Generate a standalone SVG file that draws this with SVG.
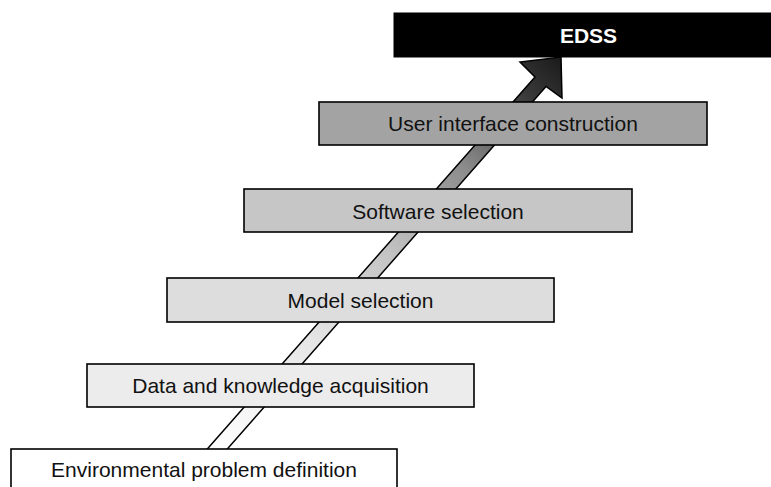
<svg xmlns="http://www.w3.org/2000/svg" width="771" height="487" viewBox="0 0 771 487">
<style>
.box{stroke:#000;stroke-width:1.6}
.lbl{font-family:"Liberation Sans",Arial,sans-serif;font-size:21px;fill:#111;text-anchor:middle}
.top{font-family:"Liberation Sans",Arial,sans-serif;font-size:21px;font-weight:bold;fill:#fff;text-anchor:middle}
</style>
<defs>
<linearGradient id="arrowGrad" gradientUnits="userSpaceOnUse" x1="207" y1="449" x2="562" y2="57">
<stop offset="0" stop-color="#ffffff"/>
<stop offset="0.28" stop-color="#e6e6e6"/>
<stop offset="0.5" stop-color="#c4c4c4"/>
<stop offset="0.72" stop-color="#8c8c8c"/>
<stop offset="0.9" stop-color="#3a3a3a"/>
<stop offset="1" stop-color="#1a1a1a"/>
</linearGradient>
</defs>
<rect width="771" height="487" fill="#fff"/>
<g id="connectors">
<polygon points="202,455 535,77 520,62 561,57 562,98 546,86.5 222,455" fill="url(#arrowGrad)" stroke="#000" stroke-width="1.5" stroke-linejoin="miter"/>
</g>
<g id="node-env">
<rect class="box" x="11" y="449" width="386" height="42" fill="#ffffff"/>
<text class="lbl" x="204" y="477">Environmental problem definition</text>
</g>
<g id="node-data">
<rect class="box" x="87" y="364" width="387" height="43" fill="#ececec"/>
<text class="lbl" x="280.5" y="393">Data and knowledge acquisition</text>
</g>
<g id="node-model">
<rect class="box" x="167" y="278" width="387" height="44" fill="#dddddd"/>
<text class="lbl" x="360.5" y="307.5">Model selection</text>
</g>
<g id="node-software">
<rect class="box" x="244" y="189" width="388" height="43" fill="#c6c6c6"/>
<text class="lbl" x="438" y="218.5">Software selection</text>
</g>
<g id="node-ui">
<rect class="box" x="319" y="102" width="388" height="43" fill="#a3a3a3"/>
<text class="lbl" x="513" y="131">User interface construction</text>
</g>
<g id="node-edss">
<rect x="394" y="13" width="389" height="44" fill="#000" stroke="#000" stroke-width="1"/>
<text class="top" x="588.5" y="42.5">EDSS</text>
</g>
</svg>
